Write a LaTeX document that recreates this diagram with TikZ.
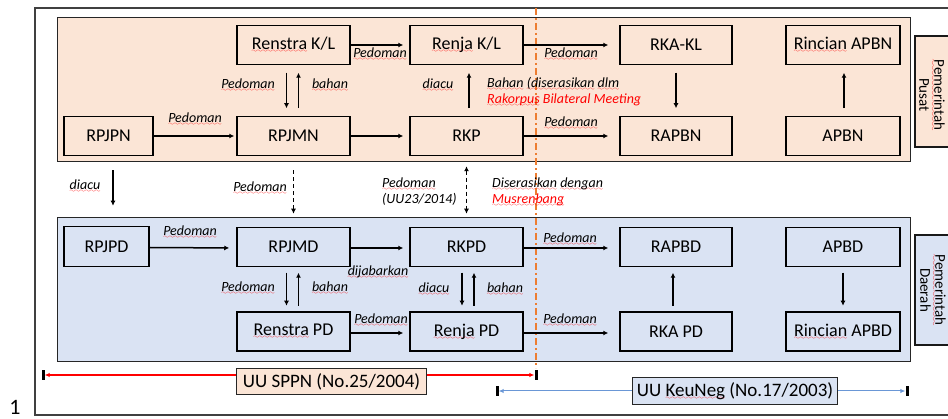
\documentclass[tikz,border=0pt]{standalone}
\usepackage{fontspec}
\setmainfont{Carlito}
\usetikzlibrary{arrows.meta,calc}
\definecolor{peach}{HTML}{FBE5D6}
\definecolor{paleblue}{HTML}{DAE3F3}
\definecolor{dashorange}{HTML}{ED7D31}
\definecolor{lineblue}{HTML}{6A97D6}
\font\wavyfont=lasy6
\newsavebox\sqbox
\newcommand\sq[1]{\sbox\sqbox{#1}\rlap{\lower3pt\hbox to\wd\sqbox{\color{red}\xleaders\hbox{\wavyfont\char58}\hfill}}\usebox\sqbox}
\begin{document}
\begin{tikzpicture}[x=1pt,y=-1pt,
  box/.style={draw=black, line width=1.5pt, minimum height=39pt, inner sep=0pt, font=\fontsize{18}{20}\selectfont},
  region/.style={draw=black!85, line width=1.3pt, inner sep=0pt, minimum width=853pt, minimum height=144pt},
  lab/.style={font=\fontsize{14}{16}\selectfont\itshape, inner sep=0pt},
  arr/.style={line width=1.5pt, -{Latex[length=5pt,width=5pt]}},
  darr/.style={line width=1.5pt, dash pattern=on 4pt off 3pt, -{Latex[length=5pt,width=5pt]}},
  vs/.style={shorten <=#1, shorten >=#1},
  bar/.style={fill=black, minimum width=3pt, minimum height=10pt, inner sep=0pt},
  lawbox/.style={draw=black!85, line width=1.2pt, inner sep=0pt, font=\fontsize{19}{21}\selectfont},
  sidebox/.style={draw=black!90, line width=1.3pt, inner sep=0pt, minimum width=50pt},
  sidetext/.style={rotate=-90, align=center, inner sep=0pt, font=\fontsize{15}{15}\selectfont},
  odash/.style={dashorange, line width=1.5pt, dash pattern=on 7pt off 3pt on 2pt off 3pt}
]
\useasboundingbox (0,0) rectangle (948,419);
\node[draw=black!75, line width=1.5pt, minimum width=925pt, minimum height=407pt, inner sep=0pt] (frame) at (497.5,211.5) {};
\node[font=\fontsize{22}{24}\selectfont, inner sep=0pt] (num) at (15,407) {1};

% regions
\node[region, fill=peach] (pusat) at (484,89.5) {};
\node[region, fill=paleblue] (daerah) at (484,289.5) {};
\node[sidebox, fill=peach, minimum height=111pt] (sidep) at (940,91.5) {};
\node[sidetext] (sideptext) at (932,95) {\sq{Pemerintah}\\Pusat};
\node[sidebox, fill=paleblue, minimum height=110pt] (sided) at (940,290) {};
\node[sidetext] (sidedtext) at (933,290) {\sq{Pemerintah}\\Daerah};

% orange divider
\coordinate (otop) at (536,8);
\coordinate (obot) at (536,368);
\draw[odash] (otop) -- (obot);

% top boxes
\node[box, fill=peach, minimum width=113pt] (renstrakl) at (293.5,45) {\sq{Renstra} K/L};
\node[box, fill=peach, minimum width=113pt] (renjakl) at (466.5,45) {\sq{Renja} K/L};
\node[box, fill=peach, minimum width=112pt] (rkakl) at (676,45) {RKA-KL};
\node[box, fill=peach, minimum width=114pt] (rincianapbn) at (843,45) {\sq{Rincian} APBN};
\node[box, fill=peach, minimum width=89pt] (rpjpn) at (108.5,136) {RPJPN};
\node[box, fill=peach, minimum width=113pt] (rpjmn) at (293.5,136) {RPJMN};
\node[box, fill=peach, minimum width=113pt] (rkp) at (466.5,136) {RKP};
\node[box, fill=peach, minimum width=112pt] (rapbn) at (676,136) {RAPBN};
\node[box, fill=peach, minimum width=114pt] (apbn) at (843,136) {APBN};

% bottom boxes
\node[box, fill=paleblue, minimum width=85pt, minimum height=40pt] (rpjpd) at (106.5,246.5) {RPJPD};
\node[box, fill=paleblue, minimum width=113pt] (rpjmd) at (293.5,247) {RPJMD};
\node[box, fill=paleblue, minimum width=113pt] (rkpd) at (466.5,247) {RKPD};
\node[box, fill=paleblue, minimum width=112pt] (rapbd) at (676,247) {RAPBD};
\node[box, fill=paleblue, minimum width=114pt] (apbd) at (843,247) {APBD};
\node[box, fill=paleblue, minimum width=113pt] (renstrapd) at (293.5,331.5) {\sq{Renstra} PD};
\node[box, fill=paleblue, minimum width=113pt] (renjapd) at (466.5,331.5) {\sq{Renja} PD};
\node[box, fill=paleblue, minimum width=112pt] (rkapd) at (676,331.5) {RKA PD};
\node[box, fill=paleblue, minimum width=114pt] (rincianapbd) at (843,331.5) {\sq{Rincian} APBD};

% top horizontal arrows
\draw[arr, shorten >=6pt] (renstrakl.east) -- (renjakl.west);
\draw[arr, shorten >=11pt] (renjakl.east) -- (rkakl.west);
\draw[arr, shorten >=2pt] (rpjpn.east) -- (rpjmn.west);
\draw[arr, shorten >=6pt] (rpjmn.east) -- (rkp.west);
\draw[arr, shorten >=11pt] (rkp.east) -- (rapbn.west);
% top vertical arrows
\draw[arr, vs=7.5pt] ([xshift=-7pt]renstrakl.south) -- ([xshift=-7pt]rpjmn.north);
\draw[arr, vs=7.5pt] ([xshift=5pt]rpjmn.north) -- ([xshift=5pt]renstrakl.south);
\draw[arr, vs=7.5pt] ([xshift=2.5pt]rkp.north) -- ([xshift=2.5pt]renjakl.south);
\draw[arr, vs=7.5pt] (rkakl.south) -- (rapbn.north);
\draw[arr, vs=7.5pt] ([xshift=1pt]apbn.north) -- ([xshift=1pt]rincianapbn.south);

% middle arrows
\draw[arr, shorten <=14pt, shorten >=20pt] ([xshift=4.5pt]rpjpn.south) -- ([xshift=6.5pt]rpjpd.north);
\draw[darr, shorten <=14pt, shorten >=13pt] (rpjmn.south) -- (rpjmd.north);
\draw[darr, {Latex[length=5pt,width=5pt]}-{Latex[length=5pt,width=5pt]}, shorten <=10pt, shorten >=13pt] (rkp.south) -- (rkpd.north);

% bottom horizontal arrows
\draw[arr, shorten >=7pt] ([yshift=-1pt]rpjpd.east) -- ([yshift=-1pt]rpjmd.west);
\draw[arr, shorten >=6pt] ([yshift=-1pt]rpjmd.east) -- ([yshift=-1pt]rkpd.west);
\draw[arr, shorten >=11pt] ([yshift=-1pt]rkpd.east) -- ([yshift=-1pt]rapbd.west);
\draw[arr, shorten >=6pt] ([yshift=-1.5pt]renstrapd.east) -- ([yshift=-1.5pt]renjapd.west);
\draw[arr, shorten >=11pt] ([yshift=-1.5pt]renjapd.east) -- ([yshift=-1.5pt]rkapd.west);
% bottom vertical arrows
\draw[arr, vs=5.5pt] ([xshift=-7pt]rpjmd.south) -- ([xshift=-7pt]renstrapd.north);
\draw[arr, vs=5.5pt] ([xshift=5pt]renstrapd.north) -- ([xshift=5pt]rpjmd.south);
\draw[arr, vs=5.5pt] ([xshift=-4.5pt]rkpd.south) -- ([xshift=-4.5pt]renjapd.north);
\draw[arr, vs=5.5pt] ([xshift=7.5pt]renjapd.north) -- ([xshift=7.5pt]rkpd.south);
\draw[arr, vs=5.5pt] ([xshift=-3pt]rkapd.north) -- ([xshift=-3pt]rapbd.south);
\draw[arr, vs=5.5pt] (apbd.south) -- (rincianapbd.north);

% labels top
\node[lab] (l1) at (380,54) {\sq{Pedoman}};
\node[lab] (l2) at (571,54) {\sq{Pedoman}};
\node[lab] (l3) at (248,85) {\sq{Pedoman}};
\node[lab] (l4) at (330,85) {\sq{bahan}};
\node[lab] (l5) at (195,119) {\sq{Pedoman}};
\node[lab] (l6) at (438,85) {\sq{diacu}};
\node[lab, anchor=west] (l7) at (487,84) {\sq{Bahan} \sq{(diserasikan} \sq{dlm}};
\node[lab, anchor=west, text=red] (l8) at (487,100) {\sq{Rakorpus} Bilateral Meeting};
\node[lab] (l9) at (571,123) {\sq{Pedoman}};
% labels middle
\node[lab] (l10) at (85,186) {\sq{diacu}};
\node[lab] (l11) at (260,188) {\sq{Pedoman}};
\node[lab, anchor=west, align=left] (l12) at (382,192) {\sq{Pedoman}\\(UU23/2014)};
\node[lab, anchor=west, align=left] (l13) at (492,192) {\sq{Diserasikan} \sq{dengan}\\\textcolor{red}{\sq{Musrenbang}}};
% labels bottom
\node[lab] (l14) at (190,232) {\sq{Pedoman}};
\node[lab] (l15) at (378,272) {\sq{dijabarkan}};
\node[lab] (l16) at (248,288) {\sq{Pedoman}};
\node[lab] (l17) at (330,288) {\sq{bahan}};
\node[lab] (l18) at (434,289) {\sq{diacu}};
\node[lab] (l19) at (505,289) {\sq{bahan}};
\node[lab] (l20) at (381,320) {\sq{Pedoman}};
\node[lab] (l21) at (570,239) {\sq{Pedoman}};
\node[lab] (l22) at (570,320) {\sq{Pedoman}};

% law boxes and ranges
\node[lawbox, fill=peach, minimum width=190pt, minimum height=26pt] (sppn) at (331.5,381.5) {UU SPPN (No.25/2004)};
\node[lawbox, fill=paleblue, minimum width=205pt, minimum height=27pt] (keuneg) at (735,391) {UU \sq{KeuNeg} (No.17/2003)};
\node[bar] (barL) at (43,375) {};
\node[bar] (barM) at (536,375) {};
\node[bar] (barK) at (497,391) {};
\node[bar] (barR) at (907,391) {};
\draw[red, line width=1.3pt, -{Latex[length=5pt,width=4.5pt]}] ([yshift=6.5pt]sppn.west) -- (barL);
\draw[red, line width=1.3pt, -{Latex[length=5pt,width=4.5pt]}] ([yshift=6.5pt]sppn.east) -- (barM);
\draw[lineblue, line width=1pt, -{Latex[length=5pt,width=4.5pt]}] (keuneg.west) -- (barK);
\draw[lineblue, line width=1pt, -{Latex[length=5pt,width=4.5pt]}] (keuneg.east) -- (barR);
\end{tikzpicture}
\end{document}
